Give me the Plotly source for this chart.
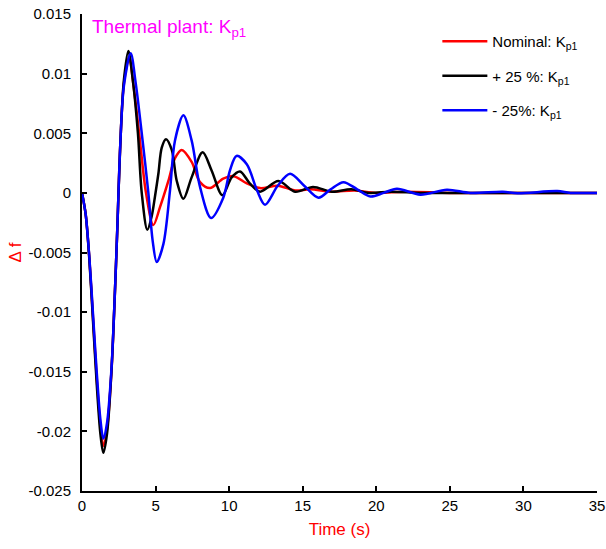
import plotly.graph_objects as go

# Frequency deviation of the thermal plant for three values of Kp1
t_nom = [0, 0.25, 0.5, 0.75, 1.0, 1.25, 1.45, 1.7, 2.0, 2.2, 2.4, 2.6, 2.85, 3.2, 3.5, 3.9, 4.35,
         4.85, 5.3, 5.87, 6.32, 6.78, 7.45, 8.02, 8.7, 9.6, 10.3, 11.2, 12.1, 13.3, 14.5, 15.5,
         17.0, 18.5, 20.0, 22.0, 25.0, 28.0, 31.0, 35.0]
df_nom = [0, -0.0018, -0.0055, -0.0105, -0.0155, -0.0195, -0.0212, -0.0198, -0.0150, -0.0095,
          -0.0030, 0.0040, 0.0092, 0.0114, 0.0090, 0.0048, 0.0,
          -0.0027, -0.0012, 0.0010, 0.0029, 0.0036, 0.0026, 0.0009, 0.0004, 0.0012, 0.0014,
          0.0008, 0.0004, 0.0006, 0.0002, 0.0003, 0.0001, 0.0002, 0.0, 0.0001, 0.0, 0.0, 0.0, 0.0]

t_plus = [0, 0.25, 0.5, 0.75, 1.0, 1.25, 1.45, 1.7, 2.0, 2.2, 2.4, 2.6, 2.85, 3.15, 3.45, 3.8,
          4.06, 4.44, 4.73, 4.96, 5.19, 5.42, 5.71, 6.1, 6.44, 6.89, 7.45, 8.2, 8.8, 9.54, 10.17,
          10.74, 11.4, 12.1, 13.35, 14.48, 15.7, 17.0, 18.3, 19.5, 21.0, 23.0, 26.0, 30.0, 35.0]
df_plus = [0, -0.0018, -0.0056, -0.0108, -0.0160, -0.0202, -0.0218, -0.0202, -0.0150, -0.0095,
           -0.0030, 0.0040, 0.0095, 0.0119, 0.0095, 0.0050,
           0.0, -0.0031, -0.0020, -0.0003, 0.0016, 0.0038, 0.0045, 0.0036, 0.0010, -0.0005, 0.0013,
           0.0034, 0.0019, -0.0002, 0.0013, 0.0018, 0.0008, 0.0001, 0.0010, 0.0001, 0.0005, 0.0001,
           0.0003, 0.0, 0.0001, 0.0, 0.0, 0.0, 0.0]

t_minus = [0, 0.25, 0.5, 0.75, 1.0, 1.25, 1.45, 1.7, 2.0, 2.2, 2.4, 2.6, 2.85, 3.31, 3.65, 4.06,
           4.51, 4.8, 5.08, 5.53, 5.98, 6.32, 6.89, 7.45, 8.02, 8.77, 9.6, 10.06, 10.5, 11.2, 11.9,
           12.44, 13.3, 14.14, 15.1, 16.07, 16.9, 17.77, 18.7, 19.6, 20.5, 21.4, 23.0, 24.8, 26.4,
           28.6, 29.6, 32.3, 33.2, 35.0]
df_minus = [0, -0.0018, -0.0054, -0.0102, -0.0150, -0.0190, -0.0206, -0.0193, -0.0148, -0.0095,
            -0.0030, 0.0040, 0.0090, 0.0117, 0.0092, 0.0050,
            0.0, -0.0040, -0.0058, -0.0043, 0.0002, 0.0044, 0.0065, 0.0044, 0.0005, -0.0021,
            -0.0004, 0.0019, 0.0031, 0.0024, 0.0002, -0.0010, 0.0006, 0.0016, 0.0006, -0.0004,
            0.0003, 0.0009, 0.0003, -0.0003, 0.0, 0.00035, -0.00015, 0.00027, 0.0, 0.0001,
            -0.00003, 0.00015, 0.0, 0.0]

series = [
    ("Nominal: K<sub>p1</sub>", t_nom, df_nom, "#ff0000"),
    ("+ 25 %: K<sub>p1</sub>", t_plus, df_plus, "#000000"),
    ("- 25%: K<sub>p1</sub>", t_minus, df_minus, "#0000ff"),
]

y_ticks = [0.015, 0.01, 0.005, 0, -0.005, -0.01, -0.015, -0.02, -0.025]
y_tick_text = ["0.015", "0.01", "0.005", "0", "-0.005", "-0.01", "-0.015", "-0.02", "-0.025"]
x_ticks = [0, 5, 10, 15, 20, 25, 30, 35]

font_family = "Liberation Sans, Arial, sans-serif"

fig = go.Figure()
for i, (name, t, y, color) in enumerate(series):
    fig.add_trace(go.Scatter(
        x=t, y=y, mode="lines", name=name, legendgroup=f"g{i}",
        line=dict(color=color, width=2.5, shape="spline", smoothing=0.9),
    ))

fig.update_layout(
    width=606, height=549,
    margin=dict(l=82, r=9, t=14, b=58, autoexpand=False),
    paper_bgcolor="white", plot_bgcolor="white",
    font=dict(family=font_family, size=14, color="black"),
    showlegend=True,
    legend=dict(
        x=0.69, y=0.977, xanchor="left", yanchor="top",
        bgcolor="rgba(0,0,0,0)", font=dict(size=15, color="black"),
        tracegroupgap=12, itemwidth=45,
    ),
    xaxis=dict(
        range=[0, 35], tickvals=x_ticks, showgrid=False, zeroline=False,
        showline=True, linecolor="black", linewidth=2, automargin=False,
        ticks="inside", ticklen=5, tickwidth=2, tickcolor="black",
        tickfont=dict(size=15),
        title=dict(text="Time (s)", font=dict(size=17, color="#ff0000"), standoff=10),
    ),
    yaxis=dict(
        range=[-0.025, 0.015], tickvals=y_ticks, ticktext=y_tick_text,
        showgrid=False, zeroline=False, automargin=False,
        showline=True, linecolor="black", linewidth=2,
        ticks="inside", ticklen=5, tickwidth=2, tickcolor="black",
        tickfont=dict(size=15), ticklabelstandoff=6,
        title=dict(text="\u0394 f", font=dict(size=17, color="#ff0000"), standoff=3),
    ),
    annotations=[dict(
        text="Thermal plant: K<sub>p1</sub>", xref="paper", yref="paper",
        x=0.015, y=1.0, xanchor="left", yanchor="top", showarrow=False,
        font=dict(size=19, color="#ff00ff"),
    )],
)

fig.write_html("out.html")
